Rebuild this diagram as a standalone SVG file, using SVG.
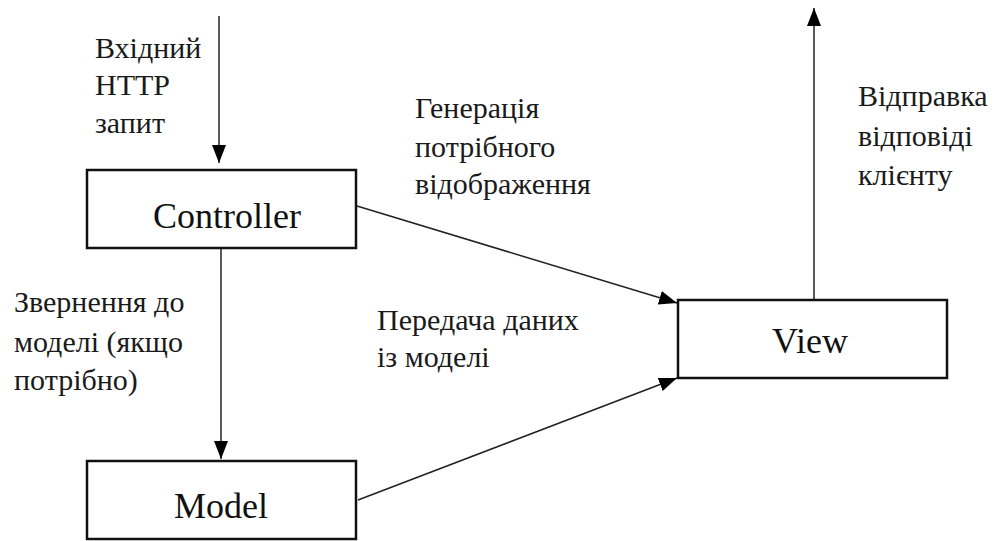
<svg xmlns="http://www.w3.org/2000/svg" width="997" height="541" viewBox="0 0 997 541">
<style>
.box{fill:#fff;stroke:#111;stroke-width:2.5}
.node{font-family:"Liberation Serif","Times New Roman",serif;font-size:36px;fill:#111;text-anchor:middle}
.lbl{font-family:"Liberation Serif","Times New Roman",serif;font-size:30px;fill:#1a1a1a}
.edge{stroke:#222;stroke-width:1.5;fill:none;marker-end:url(#ah)}
</style>
<defs>
<marker id="ah" markerUnits="userSpaceOnUse" markerWidth="20" markerHeight="16" refX="18" refY="7" orient="auto">
<path d="M0,0 L18,7 L0,14 Z" fill="#000"/>
</marker>
</defs>
<rect width="997" height="541" fill="#fff"/>
<g id="connectors">
<line class="edge" x1="219" y1="16" x2="219" y2="163"/>
<line class="edge" x1="221" y1="249" x2="221" y2="459"/>
<line class="edge" x1="357" y1="206" x2="677" y2="303"/>
<line class="edge" x1="358" y1="500" x2="677" y2="378"/>
<line class="edge" x1="814" y1="299" x2="814" y2="8"/>
</g>
<g id="controller">
<rect class="box" x="87" y="170" width="269" height="78"/>
<text class="node" x="227" y="228">Controller</text>
</g>
<g id="model">
<rect class="box" x="87" y="461" width="269" height="78"/>
<text class="node" x="221" y="518">Model</text>
</g>
<g id="view">
<rect class="box" x="678" y="300" width="269" height="78"/>
<text class="node" x="810" y="353">View</text>
</g>
<g id="labels">
<text class="lbl" x="95" y="58">Вхідний</text>
<text class="lbl" x="95" y="95">HTTP</text>
<text class="lbl" x="95" y="133">запит</text>
<text class="lbl" x="415" y="118">Генерація</text>
<text class="lbl" x="415" y="157">потрібного</text>
<text class="lbl" x="415" y="194">відображення</text>
<text class="lbl" x="858" y="106">Відправка</text>
<text class="lbl" x="858" y="146">відповіді</text>
<text class="lbl" x="858" y="185">клієнту</text>
<text class="lbl" x="14" y="312">Звернення до</text>
<text class="lbl" x="14" y="352">моделі (якщо</text>
<text class="lbl" x="14" y="390">потрібно)</text>
<text class="lbl" x="377" y="330">Передача даних</text>
<text class="lbl" x="377" y="367">із моделі</text>
</g>
</svg>
